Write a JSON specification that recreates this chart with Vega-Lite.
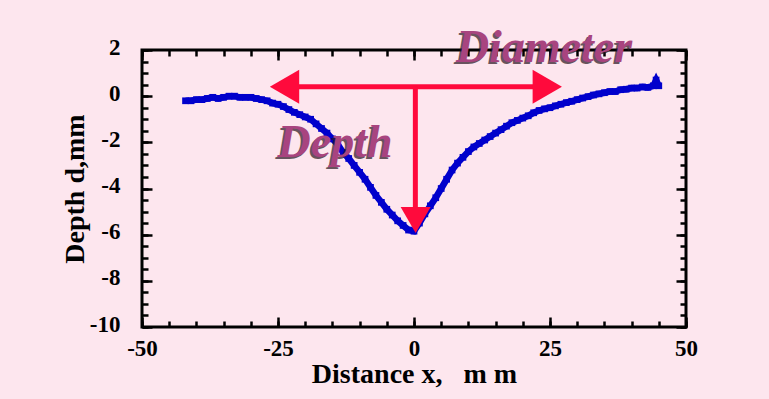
{
  "$schema": "https://vega.github.io/schema/vega-lite/v6.json",
  "width": 544,
  "height": 277,
  "autosize": {"type": "none"},
  "padding": {"left": 142, "top": 50, "right": 83, "bottom": 72},
  "background": "#fde6ee",
  "config": {
    "view": {"stroke": "black", "strokeWidth": 3},
    "axis": {
      "domain": false, "grid": false,
      "labelFont": "Liberation Serif", "labelFontWeight": "bold", "labelFontSize": 23, "labelColor": "black",
      "titleFont": "Liberation Serif", "titleFontWeight": "bold", "titleFontSize": 28, "titleColor": "black",
      "tickColor": "black", "tickWidth": 2.5, "labelFlush": false, "labelOverlap": false,
      "labelExpr": "replace(datum.label, '\u2212', '-')"
    }
  },
  "datasets": {
    "profile": [
      {"x": -42, "d": -0.2}, {"x": -41, "d": -0.2}, {"x": -40, "d": -0.15}, {"x": -39, "d": -0.15},
      {"x": -38, "d": -0.1}, {"x": -37, "d": -0.05}, {"x": -36, "d": -0.1}, {"x": -35, "d": -0.05},
      {"x": -34, "d": 0.0}, {"x": -33, "d": 0.0}, {"x": -32, "d": -0.05}, {"x": -31, "d": -0.05},
      {"x": -30, "d": -0.05}, {"x": -29, "d": -0.1}, {"x": -28, "d": -0.15}, {"x": -27, "d": -0.2},
      {"x": -26, "d": -0.3}, {"x": -25, "d": -0.35}, {"x": -24, "d": -0.45}, {"x": -23, "d": -0.58},
      {"x": -22, "d": -0.7}, {"x": -21, "d": -0.8}, {"x": -20, "d": -0.9}, {"x": -19, "d": -1.0},
      {"x": -18, "d": -1.2}, {"x": -17, "d": -1.4}, {"x": -16, "d": -1.6}, {"x": -15, "d": -1.85},
      {"x": -14, "d": -2.1}, {"x": -13, "d": -2.45}, {"x": -12, "d": -2.7}, {"x": -11, "d": -3.0},
      {"x": -10, "d": -3.3}, {"x": -9, "d": -3.6}, {"x": -8, "d": -3.95}, {"x": -7, "d": -4.3},
      {"x": -6, "d": -4.6}, {"x": -5, "d": -4.9}, {"x": -4, "d": -5.15}, {"x": -3, "d": -5.4},
      {"x": -2, "d": -5.6}, {"x": -1, "d": -5.8}, {"x": 0, "d": -5.85}, {"x": 1, "d": -5.5},
      {"x": 2, "d": -5.1}, {"x": 3, "d": -4.75}, {"x": 4, "d": -4.4}, {"x": 5, "d": -4.0},
      {"x": 6, "d": -3.6}, {"x": 7, "d": -3.2}, {"x": 8, "d": -2.9}, {"x": 9, "d": -2.65},
      {"x": 10, "d": -2.4}, {"x": 11, "d": -2.2}, {"x": 12, "d": -2.05}, {"x": 13, "d": -1.9},
      {"x": 14, "d": -1.75}, {"x": 15, "d": -1.6}, {"x": 16, "d": -1.45}, {"x": 17, "d": -1.3},
      {"x": 18, "d": -1.15}, {"x": 19, "d": -1.05}, {"x": 20, "d": -0.95}, {"x": 21, "d": -0.85},
      {"x": 22, "d": -0.72}, {"x": 23, "d": -0.62}, {"x": 24, "d": -0.55}, {"x": 25, "d": -0.5},
      {"x": 26, "d": -0.42}, {"x": 27, "d": -0.35}, {"x": 28, "d": -0.28}, {"x": 29, "d": -0.22},
      {"x": 30, "d": -0.15}, {"x": 31, "d": -0.08}, {"x": 32, "d": -0.02}, {"x": 33, "d": 0.05},
      {"x": 34, "d": 0.1}, {"x": 35, "d": 0.15}, {"x": 36, "d": 0.2}, {"x": 37, "d": 0.2},
      {"x": 38, "d": 0.28}, {"x": 39, "d": 0.3}, {"x": 40, "d": 0.35}, {"x": 41, "d": 0.35},
      {"x": 42, "d": 0.4}, {"x": 43, "d": 0.38}, {"x": 44, "d": 0.45}, {"x": 44.5, "d": 0.7},
      {"x": 45, "d": 0.45}
    ]
  },
  "layer": [
    {
      "data": {"name": "profile"},
      "mark": {"type": "line", "color": "#0000cc", "strokeWidth": 6.5},
      "encoding": {
        "x": {"field": "x", "type": "quantitative",
              "scale": {"domain": [-50, 50], "nice": false, "zero": false},
              "axis": {"orient": "bottom", "values": [-50, -25, 0, 25, 50], "tickSize": -10, "labelPadding": 20,
                       "title": "Distance x,\u00a0\u00a0\u00a0m m", "titlePadding": 0}},
        "y": {"field": "d", "type": "quantitative",
              "scale": {"domain": [-10, 2], "nice": false, "zero": false},
              "axis": {"orient": "left", "values": [-10, -8, -6, -4, -2, 0, 2], "tickSize": -10, "labelPadding": 32,
                       "labelOffset": -3, "title": "Depth d,mm", "titlePadding": 0}}
      }
    },
    {
      "data": {"name": "profile"},
      "mark": {"type": "point", "shape": "square", "filled": true, "size": 45, "color": "#0000cc", "opacity": 1},
      "encoding": {
        "x": {"field": "x", "type": "quantitative",
              "scale": {"domain": [-50, 50], "nice": false, "zero": false},
              "axis": {"orient": "bottom", "values": [-50,-45,-40,-35,-30,-25,-20,-15,-10,-5,0,5,10,15,20,25,30,35,40,45,50],
                       "tickSize": -6, "labels": false, "title": null}},
        "y": {"field": "d", "type": "quantitative",
              "scale": {"domain": [-10, 2], "nice": false, "zero": false},
              "axis": {"orient": "left", "values": [-10,-9.5,-9,-8.5,-8,-7.5,-7,-6.5,-6,-5.5,-5,-4.5,-4,-3.5,-3,-2.5,-2,-1.5,-1,-0.5,0,0.5,1,1.5,2],
                       "tickSize": -6, "labels": false, "title": null}}
      }
    },
    {
      "data": {"values": [{}]},
      "mark": {"type": "rule", "color": "#ff0a3c", "strokeWidth": 5},
      "encoding": {
        "x": {"datum": -22, "type": "quantitative",
              "scale": {"domain": [-50, 50], "nice": false, "zero": false},
              "axis": {"orient": "top", "values": [-50,-45,-40,-35,-30,-25,-20,-15,-10,-5,0,5,10,15,20,25,30,35,40,45,50],
                       "tickSize": -6, "labels": false, "title": null}},
        "x2": {"datum": 23},
        "y": {"datum": 0.41, "type": "quantitative",
              "scale": {"domain": [-10, 2], "nice": false, "zero": false},
              "axis": {"orient": "right", "values": [-10,-9.5,-9,-8.5,-8,-7.5,-7,-6.5,-6,-5.5,-5,-4.5,-4,-3.5,-3,-2.5,-2,-1.5,-1,-0.5,0,0.5,1,1.5,2],
                       "tickSize": -6, "labels": false, "title": null}}
      }
    },
    {
      "data": {"values": [{}]},
      "mark": {"type": "rule", "color": "#ff0a3c", "strokeWidth": 5},
      "encoding": {
        "x": {"datum": 0.25, "type": "quantitative",
              "scale": {"domain": [-50, 50], "nice": false, "zero": false},
              "axis": {"orient": "top", "values": [-50, -25, 0, 25, 50], "tickSize": -10, "labels": false, "title": null}},
        "y": {"datum": 0.41, "type": "quantitative",
              "scale": {"domain": [-10, 2], "nice": false, "zero": false},
              "axis": {"orient": "right", "values": [-10, -8, -6, -4, -2, 0, 2], "tickSize": -10, "labels": false, "title": null}},
        "y2": {"datum": -5.0}
      }
    },
    {
      "data": {"values": [{}]},
      "mark": {"type": "point", "shape": "triangle-left", "filled": true, "size": 1150, "color": "#ff0a3c", "opacity": 1},
      "encoding": {
        "x": {"datum": -23.8, "type": "quantitative", "scale": {"domain": [-50, 50], "nice": false, "zero": false}, "axis": null},
        "y": {"datum": 0.41, "type": "quantitative", "scale": {"domain": [-10, 2], "nice": false, "zero": false}, "axis": null}
      }
    },
    {
      "data": {"values": [{}]},
      "mark": {"type": "point", "shape": "triangle-right", "filled": true, "size": 1150, "color": "#ff0a3c", "opacity": 1},
      "encoding": {
        "x": {"datum": 24.5, "type": "quantitative", "scale": {"domain": [-50, 50], "nice": false, "zero": false}, "axis": null},
        "y": {"datum": 0.41, "type": "quantitative", "scale": {"domain": [-10, 2], "nice": false, "zero": false}, "axis": null}
      }
    },
    {
      "data": {"values": [{}]},
      "mark": {"type": "point", "shape": "triangle-down", "filled": true, "size": 900, "color": "#ff0a3c", "opacity": 1},
      "encoding": {
        "x": {"datum": 0.3, "type": "quantitative", "scale": {"domain": [-50, 50], "nice": false, "zero": false}, "axis": null},
        "y": {"datum": -5.36, "type": "quantitative", "scale": {"domain": [-10, 2], "nice": false, "zero": false}, "axis": null}
      }
    },
    {
      "data": {"values": [{"label": "Depth", "x": -14.5, "d": -2.65}, {"label": "Diameter", "x": 23.9, "d": 1.47}]},
      "mark": {"type": "text", "font": "Liberation Serif", "fontWeight": "bold", "fontStyle": "italic", "fontSize": 46,
               "align": "center", "baseline": "alphabetic", "color": "#2a1622", "opacity": 0.7, "dx": -2, "dy": 2},
      "encoding": {
        "x": {"field": "x", "type": "quantitative", "scale": {"domain": [-50, 50], "nice": false, "zero": false}, "axis": null},
        "y": {"field": "d", "type": "quantitative", "scale": {"domain": [-10, 2], "nice": false, "zero": false}, "axis": null},
        "text": {"field": "label"}
      }
    },
    {
      "data": {"values": [{"label": "Depth", "x": -14.5, "d": -2.65}, {"label": "Diameter", "x": 23.9, "d": 1.47}]},
      "mark": {"type": "text", "font": "Liberation Serif", "fontWeight": "bold", "fontStyle": "italic", "fontSize": 46,
               "align": "center", "baseline": "alphabetic", "color": "#a8447f"},
      "encoding": {
        "x": {"field": "x", "type": "quantitative", "scale": {"domain": [-50, 50], "nice": false, "zero": false}, "axis": null},
        "y": {"field": "d", "type": "quantitative", "scale": {"domain": [-10, 2], "nice": false, "zero": false}, "axis": null},
        "text": {"field": "label"}
      }
    }
  ],
  "resolve": {"axis": {"x": "independent", "y": "independent"}}
}
